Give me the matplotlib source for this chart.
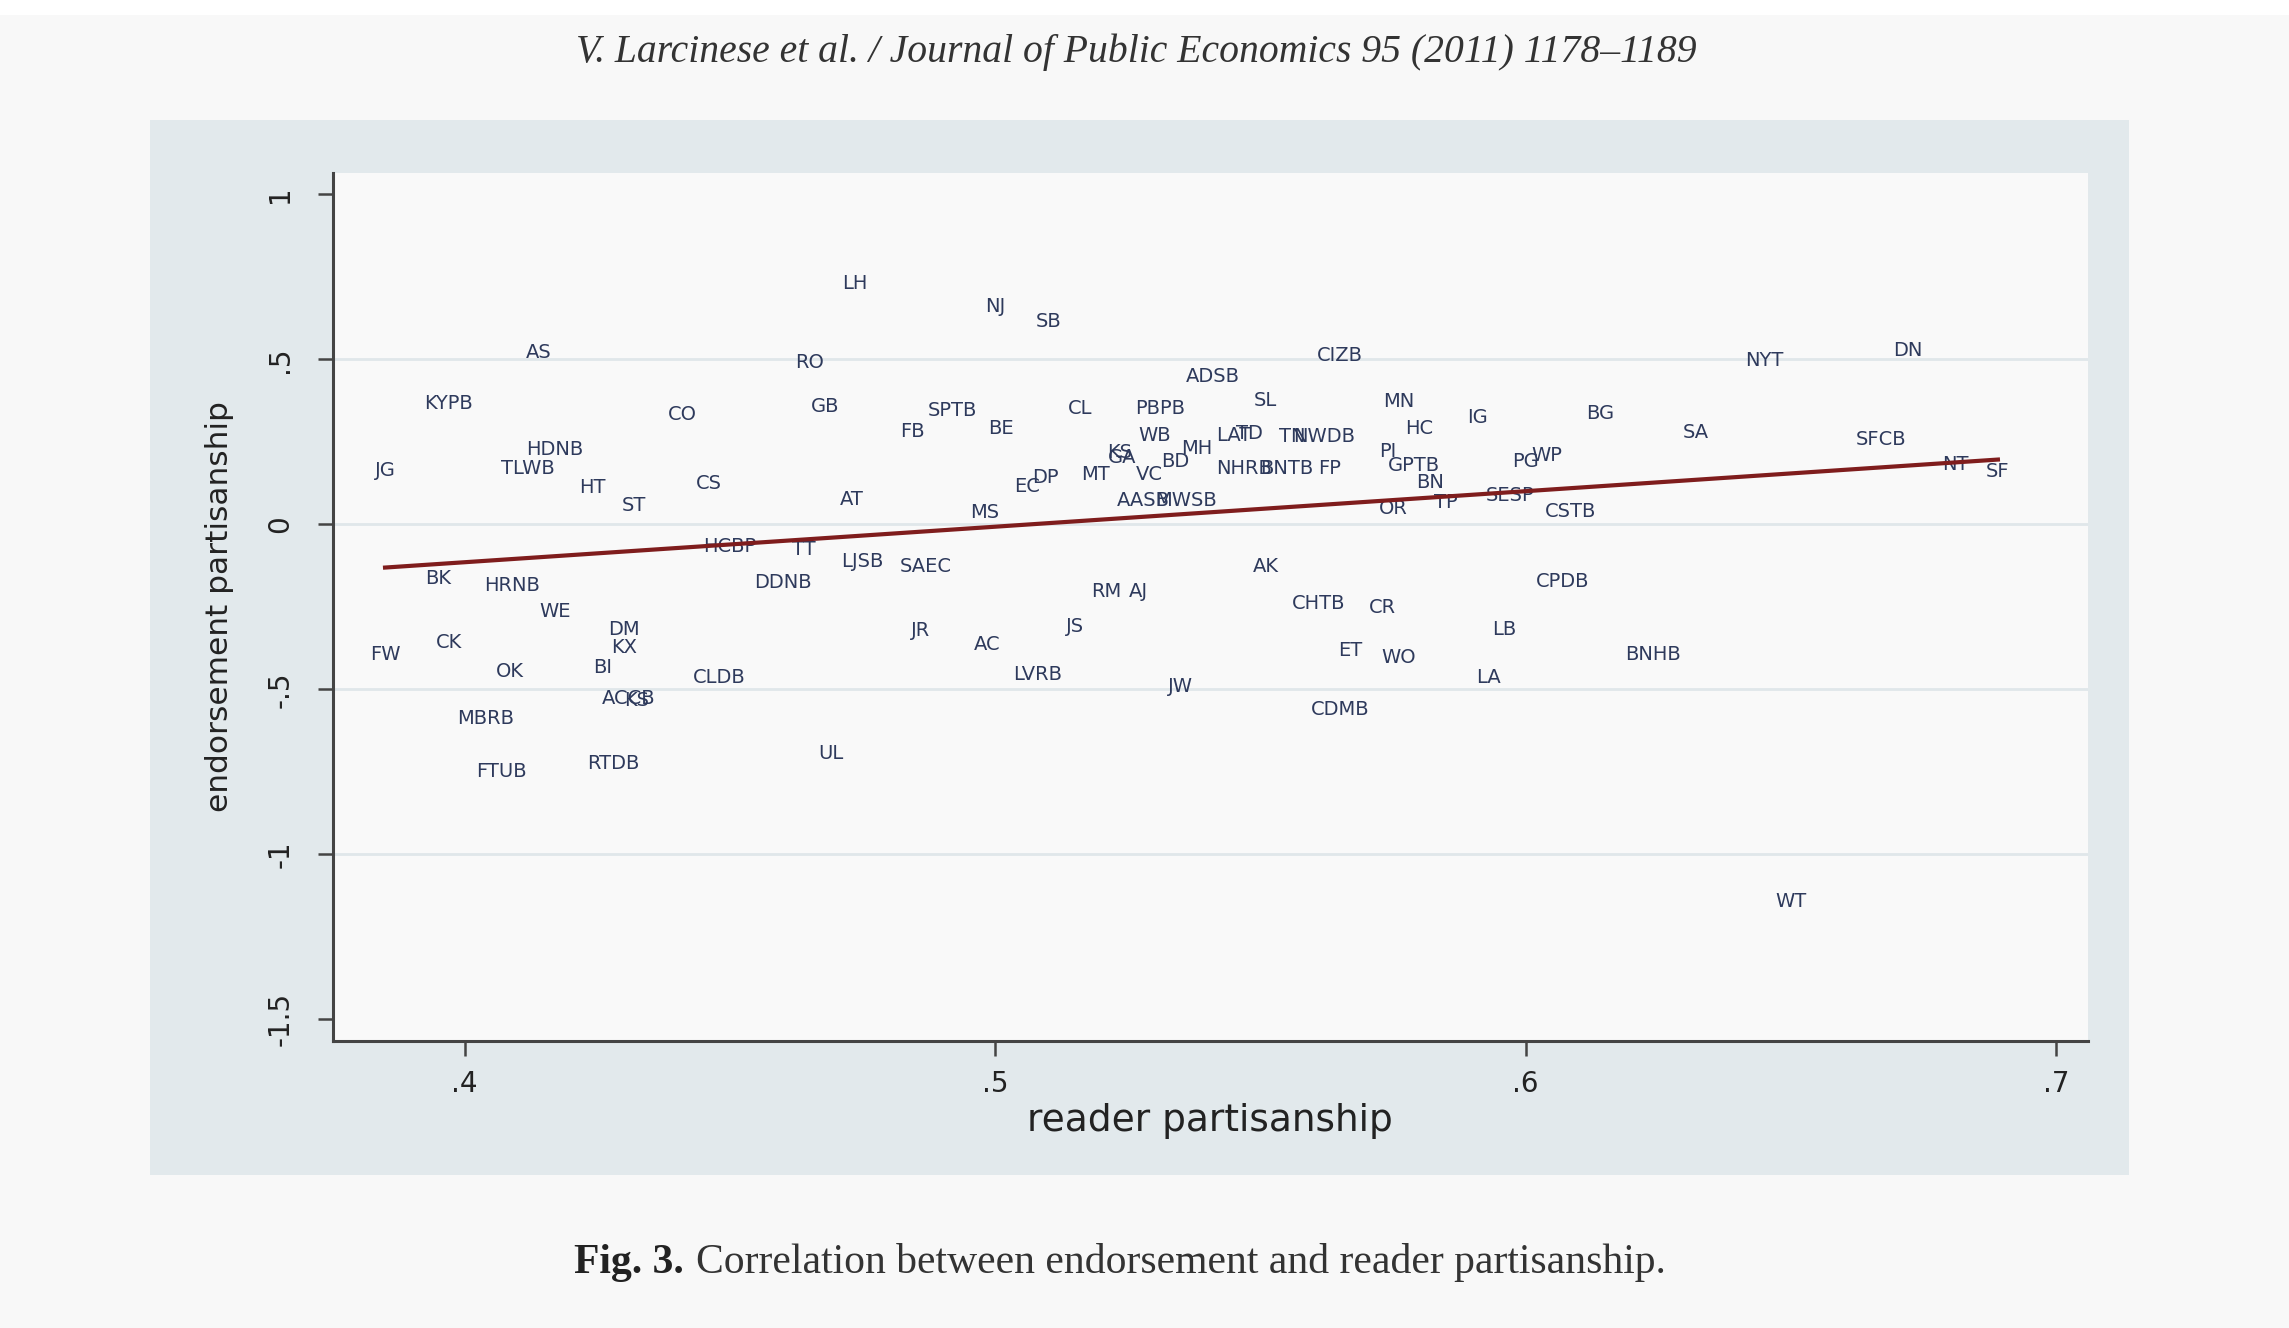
import numpy as np
import matplotlib.pyplot as plt

# newspaper codes with reader partisanship (x) and endorsement partisanship (y)
papers = ["LH", "NJ", "SB", "AS", "RO", "CIZB", "NYT", "DN", "ADSB", "KYPB",
          "GB", "SPTB", "CL", "PBPB", "SL", "MN", "IG", "BG", "CO", "FB",
          "BE", "WB", "MH", "LAT", "TD", "TN", "NWDB", "HC", "SA", "SFCB",
          "HDNB", "PI", "KS", "GA", "WP", "PG", "BD", "NHRB", "BNTB", "FP",
          "GPTB", "JG", "TLWB", "EC", "DP", "MT", "VC", "BN", "HT", "CS",
          "ST", "AT", "AASB", "MWSB", "MS", "OR", "TP", "SESP", "CSTB", "NT",
          "SF", "HCBP", "TT", "LJSB", "SAEC", "AK", "BK", "HRNB", "DDNB", "CPDB",
          "RM", "AJ", "WE", "CHTB", "CR", "DM", "JR", "JS", "LB", "FW",
          "CK", "KX", "AC", "ET", "WO", "BNHB", "OK", "BI", "CLDB", "LVRB",
          "JW", "LA", "ACCB", "KS", "MBRB", "CDMB", "UL", "RTDB", "FTUB", "WT"]

reader = [.4735, .500, .510, .414, .465, .565, .645, .672, .541, .397,
          .468, .492, .516, .531, .551, .576, .591, .614, .441, .4845,
          .501, .530, .538, .545, .548, .556, .562, .580, .632, .667,
          .417, .574, .5235, .524, .604, .600, .534, .547, .555, .563,
          .579, .385, .412, .506, .5095, .519, .529, .582, .424, .446,
          .432, .473, .528, .536, .498, .575, .585, .597, .6085, .681,
          .689, .450, .464, .475, .487, .551, .395, .409, .460, .607,
          .521, .527, .417, .561, .573, .430, .486, .515, .596, .385,
          .397, .430, .4985, .567, .576, .624, .4085, .426, .448, .508,
          .535, .593, .431, .4325, .404, .565, .469, .428, .407, .650]

endorse = [.730, .659, .615, .522, .491, .513, .496, .527, .447, .367,
           .358, .345, .350, .350, .376, .372, .323, .336, .332, .283,
           .292, .270, .230, .270, .274, .265, .265, .292, .279, .257,
           .226, .221, .217, .204, .208, .190, .190, .168, .168, .168,
           .177, .164, .168, .115, .142, .150, .150, .128, .111, .124,
           .058, .075, .073, .073, .035, .049, .066, .088, .040, .181,
           .159, -.066, -.075, -.111, -.128, -.128, -.164, -.186, -.177, -.173,
           -.204, -.204, -.265, -.239, -.252, -.319, -.323, -.310, -.319, -.394,
           -.358, -.372, -.363, -.381, -.403, -.394, -.447, -.434, -.465, -.456,
           -.491, -.465, -.527, -.535, -.588, -.562, -.695, -.726, -.748, -1.142]

xticks = [.4, .5, .6, .7]
xtick_labels = [".4", ".5", ".6", ".7"]
yticks = [-1.5, -1, -.5, 0, .5, 1]
ytick_labels = ["-1.5", "-1", "-.5", "0", ".5", "1"]

header = "V. Larcinese et al. / Journal of Public Economics 95 (2011) 1178\u20131189"
caption_bold = "Fig. 3."
caption_rest = "Correlation between endorsement and reader partisanship."

fig = plt.figure(figsize=(22.89, 13.28), dpi=100, facecolor='#f8f8f8')

# white strip at the top of the page scan
fig.patches.append(plt.Rectangle((0, 1 - 15 / 1328), 1, 15 / 1328, transform=fig.transFigure,
                                 facecolor='white', edgecolor='none', zorder=-2))
# graph region (light bluish gray)
fig.patches.append(plt.Rectangle((0.0656, 0.1152), 0.8644, 0.7944, transform=fig.transFigure,
                                 facecolor='#e2e9ec', edgecolor='none', zorder=-2))

ax = fig.add_axes([0.1455, 0.216, 0.7665, 0.654])
ax.set_facecolor('#f9f9f9')

for name, xv, yv in zip(papers, reader, endorse):
    ax.text(xv, yv, name, ha='center', va='center', fontsize=14, color='#2e3a5c', zorder=2)

# linear fit
coef = np.polyfit(reader, endorse, 1)
xs = np.array([min(reader), max(reader)])
ax.plot(xs, np.polyval(coef, xs), color='#7f1d1d', lw=3, zorder=3)

ax.set_xlim(0.3752, 0.7059)
ax.set_ylim(-1.566, 1.066)
ax.set_xticks(xticks)
ax.set_xticklabels(xtick_labels)
ax.set_yticks(yticks)
ax.set_yticklabels(ytick_labels, rotation=90, va='center')

ax.grid(axis='y', color='#e0e7ea', lw=2)
ax.set_axisbelow(True)
gl = ax.yaxis.get_gridlines()
gl[0].set_visible(False)
gl[-1].set_visible(False)

for s in ['top', 'right']:
    ax.spines[s].set_visible(False)
for s in ['left', 'bottom']:
    ax.spines[s].set_color('#444444')
    ax.spines[s].set_linewidth(2.2)

ax.tick_params(axis='both', direction='out', length=11, width=1.8, color='#444444',
               labelsize=20, labelcolor='#222222')
ax.tick_params(axis='x', pad=10)
ax.tick_params(axis='y', pad=17)

ax.set_xlabel('reader partisanship', fontsize=27, color='#222222')
ax.set_ylabel('endorsement partisanship', fontsize=22.5, color='#222222')
ax.xaxis.label.set_va('center')
ax.yaxis.label.set_va('center')
ax.xaxis.set_label_coords(0.5, -0.092)
ax.yaxis.set_label_coords(-0.065, 0.5)

fig.text(0.4963, 0.9608, header, ha='center', va='center', fontsize=28.5,
         family='Liberation Serif', style='italic', color='#333333')

t1 = fig.text(0.2508, 0.049, caption_bold, ha='left', va='center', fontsize=30,
              family='Liberation Serif', weight='bold', color='#222222')
ax.annotate(caption_rest, xy=(1, 0.5), xycoords=t1, xytext=(9, 0), textcoords='offset points',
            ha='left', va='center', fontsize=30, family='Liberation Serif', color='#333333',
            annotation_clip=False)

plt.savefig('out.png', dpi=100, facecolor=fig.get_facecolor())
